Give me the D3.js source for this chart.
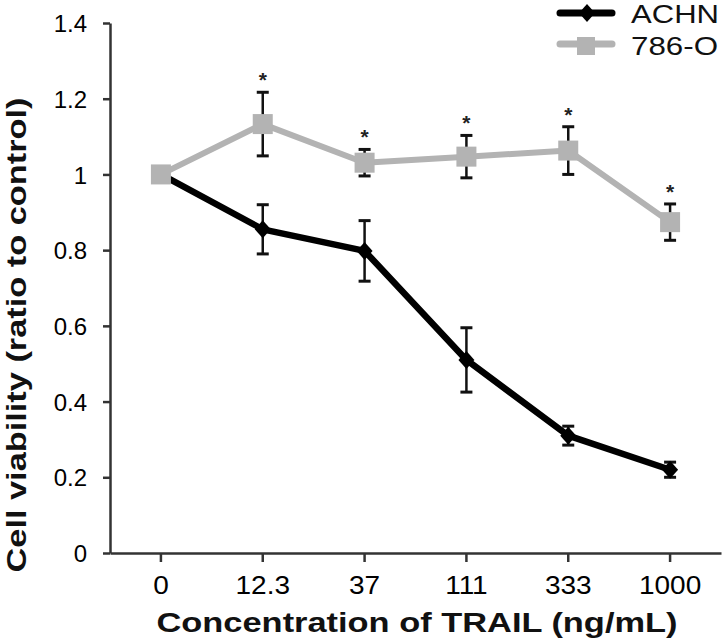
<!DOCTYPE html>
<html>
<head>
<meta charset="utf-8">
<script src="https://cdn.jsdelivr.net/npm/d3@7/dist/d3.min.js"></script>
<style>
  html, body { margin: 0; padding: 0; background: #fff; }
  svg { display: block; font-family: "Liberation Sans", Arial, sans-serif; }
</style>
</head>
<body>
<svg id="chart" width="725" height="639"></svg>
<script>
const categories = ["0", "12.3", "37", "111", "333", "1000"];
const achnValues = [1.0, 0.855, 0.798, 0.51, 0.31, 0.22];
const achnErrors = [0, 0.065, 0.08, 0.085, 0.025, 0.02];
const o786Values = [1.0, 1.133, 1.031, 1.047, 1.063, 0.874];
const o786Errors = [0, 0.084, 0.035, 0.056, 0.063, 0.048];
const significant = [false, true, true, true, true, true];
const yTicks = [0, 0.2, 0.4, 0.6, 0.8, 1, 1.2, 1.4];
const seriesNames = ["ACHN", "786-O"];

const svg = d3.select("#chart");
const axisColor = "#333";
const grayColor = "#b3b3b3";

const x = d3.scaleBand().domain(categories).range([110, 721]);
const y = d3.scaleLinear().domain([0, 1.4]).range([553, 23]);
const cx = c => x(c) + x.bandwidth() / 2;

// Y axis
const yAxis = svg.append("g").attr("transform", "translate(110,0)")
  .call(d3.axisLeft(y).tickValues(yTicks).tickSize(7).tickSizeOuter(0).tickPadding(16)
    .tickFormat(d => d3.format("")(+d.toFixed(1))));
yAxis.select(".domain").attr("stroke", axisColor).attr("stroke-width", 2.5);
yAxis.selectAll(".tick line").attr("stroke", axisColor).attr("stroke-width", 2.5);
yAxis.selectAll(".tick text").attr("font-size", 24).attr("fill", "#000")
  .attr("font-family", "Liberation Sans, Arial, sans-serif").attr("dy", "0.36em");

// X axis
const xAxis = svg.append("g").attr("transform", "translate(0,553)")
  .call(d3.axisBottom(x).tickSize(9).tickSizeOuter(0).tickPadding(24));
xAxis.select(".domain").attr("stroke", axisColor).attr("stroke-width", 2.5);
xAxis.selectAll(".tick line").attr("stroke", axisColor).attr("stroke-width", 2.5);
xAxis.selectAll(".tick text").attr("font-size", 25).attr("fill", "#000")
  .attr("font-family", "Liberation Sans, Arial, sans-serif").attr("dy", "0.3em")
  .each(function() {
    const w = this.getComputedTextLength();
    d3.select(this).attr("textLength", w * 1.12).attr("lengthAdjust", "spacingAndGlyphs");
  });

// Axis titles
svg.append("text")
  .attr("x", 417).attr("y", 632)
  .attr("text-anchor", "middle")
  .attr("font-size", 27).attr("font-weight", "bold").attr("fill", "#111")
  .attr("textLength", 521).attr("lengthAdjust", "spacingAndGlyphs")
  .text("Concentration of TRAIL (ng/mL)");

svg.append("text")
  .attr("transform", "translate(26,335) rotate(-90)")
  .attr("text-anchor", "middle")
  .attr("font-size", 28).attr("font-weight", "bold").attr("fill", "#111")
  .attr("textLength", 475).attr("lengthAdjust", "spacingAndGlyphs")
  .text("Cell viability (ratio to control)");

const line = d3.line().x(d => cx(d.c)).y(d => y(d.v));

function errorBars(vals, errs) {
  const g = svg.append("g").attr("stroke", "#111").attr("stroke-width", 2.5);
  categories.forEach((c, i) => {
    if (!errs[i]) return;
    const top = y(vals[i] + errs[i]), bot = y(vals[i] - errs[i]), xc = cx(c);
    g.append("line").attr("x1", xc).attr("x2", xc).attr("y1", top).attr("y2", bot);
    g.append("line").attr("x1", xc - 6).attr("x2", xc + 6).attr("y1", top).attr("y2", top).attr("stroke-width", 3);
    g.append("line").attr("x1", xc - 6).attr("x2", xc + 6).attr("y1", bot).attr("y2", bot).attr("stroke-width", 3);
  });
}

const achnData = categories.map((c, i) => ({ c, v: achnValues[i] }));
const o786Data = categories.map((c, i) => ({ c, v: o786Values[i] }));

// ACHN
errorBars(achnValues, achnErrors);
svg.append("path").datum(achnData).attr("d", line)
  .attr("fill", "none").attr("stroke", "#000").attr("stroke-width", 6.5).attr("stroke-linejoin", "round");
const diamond = (xc, yc) => `M${xc},${yc - 9}L${xc + 8},${yc}L${xc},${yc + 9}L${xc - 8},${yc}Z`;
svg.append("g").selectAll("path").data(achnData).join("path")
  .attr("d", d => diamond(cx(d.c), y(d.v))).attr("fill", "#000");

// 786-O
errorBars(o786Values, o786Errors);
svg.append("path").datum(o786Data).attr("d", line)
  .attr("fill", "none").attr("stroke", grayColor).attr("stroke-width", 6).attr("stroke-linejoin", "round");
svg.append("g").selectAll("rect").data(o786Data).join("rect")
  .attr("x", d => cx(d.c) - 10).attr("y", d => y(d.v) - 10)
  .attr("width", 20).attr("height", 20).attr("fill", grayColor);

// significance stars
svg.append("g").selectAll("text").data(categories.filter((c, i) => significant[i]))
  .join("text")
  .attr("x", c => cx(c))
  .attr("y", c => { const i = categories.indexOf(c); return y(o786Values[i] + o786Errors[i]) - 5; })
  .attr("text-anchor", "middle").attr("font-size", 21).attr("font-weight", "bold").attr("fill", "#222")
  .text("*");

// Legend
const lg = svg.append("g");
lg.append("line").attr("x1", 560).attr("x2", 612).attr("y1", 13).attr("y2", 13)
  .attr("stroke", "#000").attr("stroke-width", 7).attr("stroke-linecap", "round");
lg.append("path").attr("d", diamond(587, 13)).attr("fill", "#000");
lg.append("text").attr("x", 631).attr("y", 23).attr("font-size", 25).attr("fill", "#111")
  .attr("textLength", 88).attr("lengthAdjust", "spacingAndGlyphs").text(seriesNames[0]);
lg.append("line").attr("x1", 560).attr("x2", 612).attr("y1", 44).attr("y2", 44)
  .attr("stroke", grayColor).attr("stroke-width", 7).attr("stroke-linecap", "round");
lg.append("rect").attr("x", 577).attr("y", 37).attr("width", 18).attr("height", 18).attr("fill", grayColor);
lg.append("text").attr("x", 631).attr("y", 55).attr("font-size", 25).attr("fill", "#111")
  .attr("textLength", 87).attr("lengthAdjust", "spacingAndGlyphs").text(seriesNames[1]);
</script>
</body>
</html>
